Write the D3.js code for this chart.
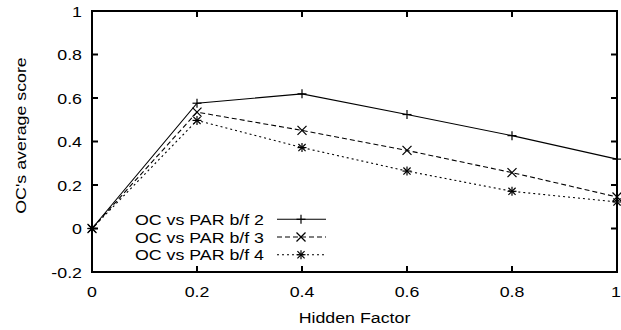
<!DOCTYPE html>
<html><head><meta charset="utf-8">
<script src="https://cdn.jsdelivr.net/npm/d3@7"></script>
<style>body{margin:0;background:#fff}svg{display:block}text{font-family:"Liberation Sans",Arial,Helvetica,sans-serif;fill:#000}</style>
</head><body>
<svg id="c" width="621" height="330"></svg>
<script>
const xValues = [0, 0.2, 0.4, 0.6, 0.8, 1];
const seriesNames = ["OC vs PAR b/f 2", "OC vs PAR b/f 3", "OC vs PAR b/f 4"];
const seriesBF2 = [0, 0.576, 0.619, 0.524, 0.427, 0.319];
const seriesBF3 = [0, 0.535, 0.451, 0.359, 0.257, 0.145];
const seriesBF4 = [0, 0.497, 0.372, 0.264, 0.171, 0.122];
const xTicks = [0, 0.2, 0.4, 0.6, 0.8, 1];
const yTicks = [-0.2, 0, 0.2, 0.4, 0.6, 0.8, 1];
const xLabel = "Hidden Factor";
const yLabel = "OC's average score";

const svg = d3.select("#c");
const FS = 15.2, SX = 1.17;
const W = 621;
const L = 92, R = 617, T = 11, B = 272;
const x = d3.scaleLinear().domain([0, 1]).range([L, R]);
const y = d3.scaleLinear().domain([-0.2, 1]).range([B, T]);
const fmt = d => String(+d.toFixed(1));

function label(px, py, txt, anchor, rot) {
  return svg.append("text")
    .attr("transform", `translate(${px},${py})${rot ? " rotate(" + rot + ")" : ""} scale(${SX},1)`)
    .attr("text-anchor", anchor).attr("font-size", FS).text(txt);
}

const series = [
  {name: seriesNames[0], values: seriesBF2, dash: null, marker: "plus"},
  {name: seriesNames[1], values: seriesBF3, dash: "5,3", marker: "cross"},
  {name: seriesNames[2], values: seriesBF4, dash: "2,3", marker: "star"}
];

// ticks (inward, mirrored)
const tl = 6;
const g = svg.append("g").attr("stroke", "#000").attr("stroke-width", 2);
xTicks.forEach(t => {
  g.append("line").attr("x1", x(t)).attr("x2", x(t)).attr("y1", B).attr("y2", B - tl);
  g.append("line").attr("x1", x(t)).attr("x2", x(t)).attr("y1", T).attr("y2", T + tl);
});
yTicks.forEach(t => {
  g.append("line").attr("x1", L).attr("x2", L + tl).attr("y1", y(t)).attr("y2", y(t));
  g.append("line").attr("x1", R).attr("x2", R - tl).attr("y1", y(t)).attr("y2", y(t));
});

// tick labels (keep the last one inside the page)
xTicks.forEach(t => {
  const lab = label(x(t), 296.5, fmt(t), "middle");
  const bb = lab.node().getBBox();
  const half = bb.width * SX / 2;
  if (x(t) + half > W) lab.attr("transform", `translate(${W - half},296.5) scale(${SX},1)`);
});
yTicks.forEach(t => label(82, y(t) + 5.5, fmt(t), "end"));

// axis labels
label((L + R) / 2, 322.5, xLabel, "middle");
label(26, 135.5, yLabel, "middle", -90);

// markers
function drawMarker(sel, type, cx, cy) {
  const s = 4.5;
  const m = sel.append("g").attr("stroke", "#000").attr("stroke-width", 1.2).attr("fill", "none");
  if (type === "plus" || type === "star") {
    m.append("line").attr("x1", cx - s).attr("x2", cx + s).attr("y1", cy).attr("y2", cy);
    m.append("line").attr("x1", cx).attr("x2", cx).attr("y1", cy - s).attr("y2", cy + s);
  }
  if (type === "cross" || type === "star") {
    const d = type === "star" ? s * 0.8 : s;
    m.append("line").attr("x1", cx - d).attr("x2", cx + d).attr("y1", cy - d).attr("y2", cy + d);
    m.append("line").attr("x1", cx - d).attr("x2", cx + d).attr("y1", cy + d).attr("y2", cy - d);
  }
}

const line = d3.line().x((d, i) => x(xValues[i])).y(d => y(d));
series.forEach(s => {
  svg.append("path").datum(s.values).attr("d", line).attr("fill", "none")
    .attr("stroke", "#000").attr("stroke-width", 1.1)
    .attr("stroke-dasharray", s.dash);
  s.values.forEach((v, i) => drawMarker(svg, s.marker, x(xValues[i]), y(v)));
});

// legend
const legY = [219.3, 237, 254.7];
series.forEach((s, i) => {
  label(264, legY[i] + 5.5, s.name, "end");
  svg.append("line").attr("x1", 277).attr("x2", 326).attr("y1", legY[i]).attr("y2", legY[i])
    .attr("stroke", "#000").attr("stroke-width", 1.1).attr("stroke-dasharray", s.dash);
  drawMarker(svg, s.marker, 301, legY[i]);
});

// frame
svg.append("rect").attr("x", L).attr("y", T).attr("width", R - L).attr("height", B - T)
  .attr("fill", "none").attr("stroke", "#000").attr("stroke-width", 2);
</script>
</body></html>
